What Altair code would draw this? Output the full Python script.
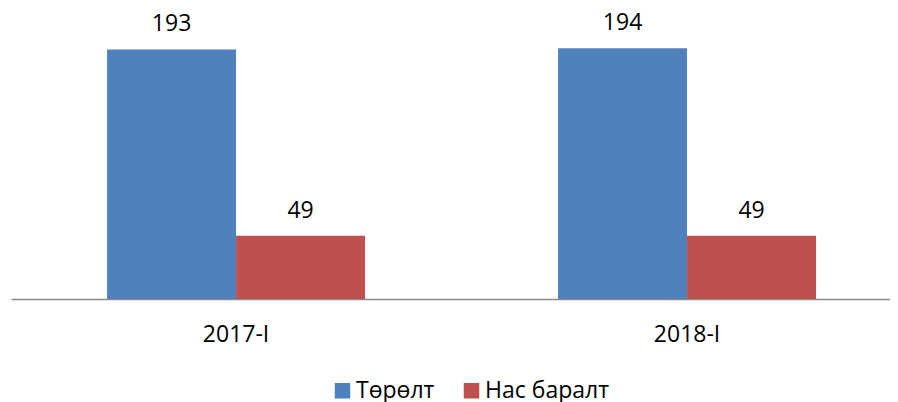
import altair as alt
import pandas as pd

periods = ["2017-I", "2018-I"]
series = ["Төрөлт", "Нас баралт"]
births = [193, 194]
deaths = [49, 49]
colors = ["#4F81BD", "#C0504D"]

rows = []
for i, p in enumerate(periods):
    rows.append({"period": p, "series": series[0], "value": births[i]})
    rows.append({"period": p, "series": series[1], "value": deaths[i]})
df = pd.DataFrame(rows)

FONT = "Open Sans"
FS = 23

x = alt.X(
    "period:N", sort=periods, title=None,
    scale=alt.Scale(paddingInner=0.428, paddingOuter=0.1885, align=0.565),
    axis=alt.Axis(labelAngle=0, ticks=False, domainColor="#8A8A8A", domainWidth=1.7,
                  labelFontSize=FS, labelPadding=24, labelColor="#000000", labelFont=FONT),
)
xo = alt.XOffset("series:N", sort=series, scale=alt.Scale(paddingInner=0, paddingOuter=0))
y = alt.Y("value:Q", scale=alt.Scale(domain=[0, 222]), axis=None)

base = alt.Chart(df).encode(x=x, xOffset=xo, y=y)

bars = base.mark_bar(strokeWidth=0).encode(
    color=alt.Color(
        "series:N", sort=series,
        scale=alt.Scale(domain=series, range=colors),
        legend=alt.Legend(
            orient="none", legendX=320, legendY=367, direction="horizontal", title=None,
            symbolType="square", symbolSize=240, symbolStrokeWidth=0,
            labelFontSize=FS, labelFont=FONT, labelColor="#000000",
            labelOffset=2, columnPadding=25,
        ),
    )
)

labels = base.mark_text(dy=-25, fontSize=FS, font=FONT, color="#000000").encode(text="value:Q")

chart = (
    alt.layer(bars, labels)
    .properties(width=879, height=287, padding={"left": 3, "top": 4, "right": 0, "bottom": 6})
    .configure_view(stroke=None)
)

chart.save("out.html", embed_options={"renderer": "svg", "actions": False})
